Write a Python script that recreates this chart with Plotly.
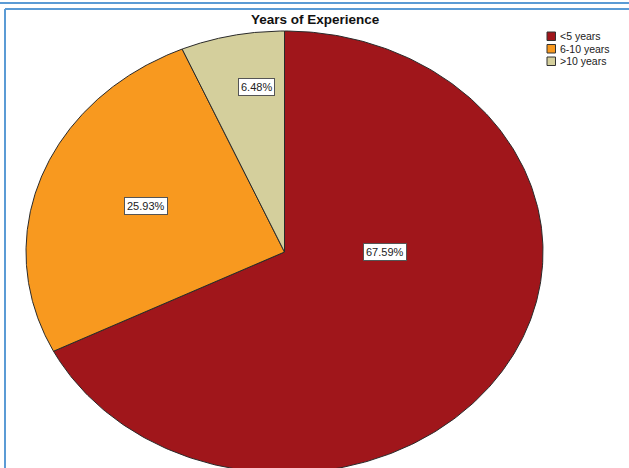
import numpy as np
import plotly.graph_objects as go

# ---- data ----
categories = ["<5 years", "6-10 years", ">10 years"]
values = [67.59, 25.93, 6.48]
label_texts = ["67.59%", "25.93%", "6.48%"]

# ---- style / layout parameters ----
colors = ["#A0161B", "#F8991F", "#D4CF9C"]
label_pos = [(0.389, 0.0), (-0.536, 0.208), (-0.110, 0.747)]  # in unit-ellipse coords
W, H = 629, 468
cx_px, cy_px, rx_px, ry_px = 284.5, 252.0, 258.5, 221.0

fig = go.Figure()

total = sum(values)
start = 0.0
for cat, val, col in zip(categories, values, colors):
    a0 = start / total * 2 * np.pi
    a1 = (start + val) / total * 2 * np.pi
    t = np.linspace(a0, a1, 300)
    xs = np.concatenate([[0.0], np.sin(t), [0.0]])
    ys = np.concatenate([[0.0], np.cos(t), [0.0]])
    fig.add_trace(go.Scatter(
        x=xs, y=ys, mode="lines", fill="toself", fillcolor=col,
        line=dict(color="#2a2a2a", width=1), name=cat,
        hoverinfo="name", showlegend=False,
    ))
    start += val

# value labels
for (u, v), txt in zip(label_pos, label_texts):
    fig.add_annotation(x=u, y=v, xref="x", yref="y", text=txt, showarrow=False,
                       font=dict(family="Arial, Liberation Sans", size=11, color="#222"),
                       bgcolor="white", bordercolor="#555", borderwidth=1, borderpad=2)

# custom compact legend (SPSS-style)
leg_x0, leg_y0, row_h, box = 547, 32, 12.5, 8.5
for i, (cat, col) in enumerate(zip(categories, colors)):
    y_top = leg_y0 + i * row_h
    fig.add_shape(type="rect", xref="paper", yref="paper",
                  x0=leg_x0 / W, x1=(leg_x0 + box) / W,
                  y0=1 - (y_top + box) / H, y1=1 - y_top / H,
                  fillcolor=col, line=dict(color="#333", width=1))
    fig.add_annotation(x=(leg_x0 + box + 2.5) / W, y=1 - (y_top + box / 2) / H,
                       xref="paper", yref="paper", xanchor="left", yanchor="middle",
                       text=cat, showarrow=False,
                       font=dict(family="Arial, Liberation Sans", size=10.5, color="#222"))

# title
fig.add_annotation(x=0.502, y=1 - 20 / H, xref="paper", yref="paper",
                   text="<b>Years of Experience</b>", showarrow=False,
                   xanchor="center", yanchor="middle",
                   font=dict(family="Arial, Liberation Sans", size=13.5, color="#111"))

# document frame lines (blue)
frame_col = "#5B9BD5"
fig.add_shape(type="line", xref="paper", yref="paper", x0=0, x1=1,
              y0=1 - 3 / H, y1=1 - 3 / H, line=dict(color=frame_col, width=2))
fig.add_shape(type="line", xref="paper", yref="paper", x0=5 / W, x1=1,
              y0=1 - 9 / H, y1=1 - 9 / H, line=dict(color=frame_col, width=2))
fig.add_shape(type="line", xref="paper", yref="paper", x0=5 / W, x1=5 / W,
              y0=0, y1=1 - 9 / H, line=dict(color=frame_col, width=2))

xr = [-cx_px / rx_px, (W - cx_px) / rx_px]
yr = [(cy_px - H) / ry_px, cy_px / ry_px]
fig.update_xaxes(range=xr, visible=False, fixedrange=True)
fig.update_yaxes(range=yr, visible=False, fixedrange=True)
fig.update_layout(width=W, height=H, autosize=False,
                  margin=dict(l=0, r=0, t=0, b=0),
                  paper_bgcolor="white", plot_bgcolor="white",
                  showlegend=False)

fig.write_html("out.html", config={"displayModeBar": False},
               post_script="document.body.style.margin='0';document.body.style.overflow='hidden';")
